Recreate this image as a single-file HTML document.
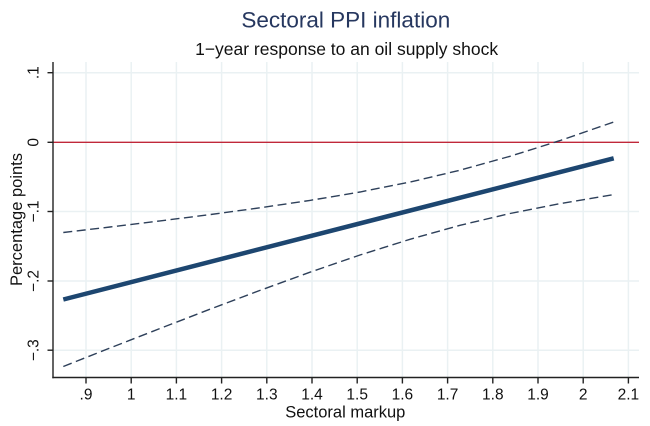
<!DOCTYPE html>
<html>
<head>
<meta charset="utf-8">
<style>
html,body{margin:0;padding:0;background:#fff;}
svg{display:block;}
text{font-family:"Liberation Sans",Arial,sans-serif;}
</style>
</head>
<body>
<svg width="650" height="426" viewBox="0 0 650 426" xmlns="http://www.w3.org/2000/svg">
<rect width="650" height="426" fill="#ffffff"/>
<!-- gridlines -->
<g stroke="#eaf1f3" stroke-width="1.5">
  <line x1="86" y1="62" x2="86" y2="377.5"/>
  <line x1="131.2" y1="62" x2="131.2" y2="377.5"/>
  <line x1="176.4" y1="62" x2="176.4" y2="377.5"/>
  <line x1="221.6" y1="62" x2="221.6" y2="377.5"/>
  <line x1="266.8" y1="62" x2="266.8" y2="377.5"/>
  <line x1="312" y1="62" x2="312" y2="377.5"/>
  <line x1="357.2" y1="62" x2="357.2" y2="377.5"/>
  <line x1="402.4" y1="62" x2="402.4" y2="377.5"/>
  <line x1="447.6" y1="62" x2="447.6" y2="377.5"/>
  <line x1="492.8" y1="62" x2="492.8" y2="377.5"/>
  <line x1="538" y1="62" x2="538" y2="377.5"/>
  <line x1="583.2" y1="62" x2="583.2" y2="377.5"/>
  <line x1="628.4" y1="62" x2="628.4" y2="377.5"/>
  <line x1="53" y1="72.7" x2="639" y2="72.7"/>
  <line x1="53" y1="211.5" x2="639" y2="211.5"/>
  <line x1="53" y1="281" x2="639" y2="281"/>
  <line x1="53" y1="350.2" x2="639" y2="350.2"/>
</g>
<!-- zero line -->
<line x1="53" y1="142.3" x2="639" y2="142.3" stroke="#c0283a" stroke-width="1.3"/>
<!-- CI dashed lines -->
<g fill="none" stroke="#2e405a" stroke-width="1.4" stroke-dasharray="9 4.5">
  <polyline points="63.3,232.5 110,227.0 160,220.9 210,214.6 260,207.8 310,200.4 360,192.0 410,182.1 460,170.2 510,156.3 560,140.6 613.7,122.0"/>
  <polyline points="63.3,366.5 110,348.0 160,328.5 210,309.2 260,290.4 310,272.2 360,255.0 410,239.3 460,225.3 510,213.5 560,203.6 613.7,194.6"/>
</g>
<!-- central line -->
<line x1="63.3" y1="299.5" x2="613.7" y2="158.3" stroke="#1d4670" stroke-width="4.5" stroke-linecap="butt"/>
<!-- axes -->
<g stroke="#222" stroke-width="1.4">
  <line x1="53" y1="62" x2="53" y2="378.2"/>
  <line x1="52.3" y1="377.5" x2="639" y2="377.5"/>
  <line x1="47.5" y1="72.7" x2="53" y2="72.7"/>
  <line x1="47.5" y1="142.3" x2="53" y2="142.3"/>
  <line x1="47.5" y1="211.5" x2="53" y2="211.5"/>
  <line x1="47.5" y1="281" x2="53" y2="281"/>
  <line x1="47.5" y1="350.2" x2="53" y2="350.2"/>
  <line x1="86" y1="377.5" x2="86" y2="383.5"/>
  <line x1="131.2" y1="377.5" x2="131.2" y2="383.5"/>
  <line x1="176.4" y1="377.5" x2="176.4" y2="383.5"/>
  <line x1="221.6" y1="377.5" x2="221.6" y2="383.5"/>
  <line x1="266.8" y1="377.5" x2="266.8" y2="383.5"/>
  <line x1="312" y1="377.5" x2="312" y2="383.5"/>
  <line x1="357.2" y1="377.5" x2="357.2" y2="383.5"/>
  <line x1="402.4" y1="377.5" x2="402.4" y2="383.5"/>
  <line x1="447.6" y1="377.5" x2="447.6" y2="383.5"/>
  <line x1="492.8" y1="377.5" x2="492.8" y2="383.5"/>
  <line x1="538" y1="377.5" x2="538" y2="383.5"/>
  <line x1="583.2" y1="377.5" x2="583.2" y2="383.5"/>
  <line x1="628.4" y1="377.5" x2="628.4" y2="383.5"/>
</g>
<!-- x tick labels -->
<g font-size="15.5" fill="#111" text-anchor="middle">
  <text x="86" y="399.3">.9</text>
  <text x="131.2" y="399.3">1</text>
  <text x="176.4" y="399.3">1.1</text>
  <text x="221.6" y="399.3">1.2</text>
  <text x="266.8" y="399.3">1.3</text>
  <text x="312" y="399.3">1.4</text>
  <text x="357.2" y="399.3">1.5</text>
  <text x="402.4" y="399.3">1.6</text>
  <text x="447.6" y="399.3">1.7</text>
  <text x="492.8" y="399.3">1.8</text>
  <text x="538" y="399.3">1.9</text>
  <text x="583.2" y="399.3">2</text>
  <text x="628.4" y="399.3">2.1</text>
</g>
<!-- y tick labels -->
<g font-size="15.5" fill="#111" text-anchor="middle">
  <text transform="translate(38.5,72.7) rotate(-90)">.1</text>
  <text transform="translate(38.5,142.3) rotate(-90)">0</text>
  <text transform="translate(38.5,211.5) rotate(-90)">−.1</text>
  <text transform="translate(38.5,281) rotate(-90)">−.2</text>
  <text transform="translate(38.5,350.2) rotate(-90)">−.3</text>
</g>
<!-- axis titles -->
<text x="345.3" y="417.7" font-size="16.5" fill="#111" text-anchor="middle">Sectoral markup</text>
<text transform="translate(22,219.5) rotate(-90)" font-size="16.5" fill="#111" text-anchor="middle">Percentage points</text>
<!-- titles -->
<text x="345.8" y="27.3" font-size="22.5" fill="#26375f" text-anchor="middle">Sectoral PPI inflation</text>
<text x="346.6" y="55" font-size="17.5" fill="#111" text-anchor="middle">1−year response to an oil supply shock</text>
</svg>
</body>
</html>
